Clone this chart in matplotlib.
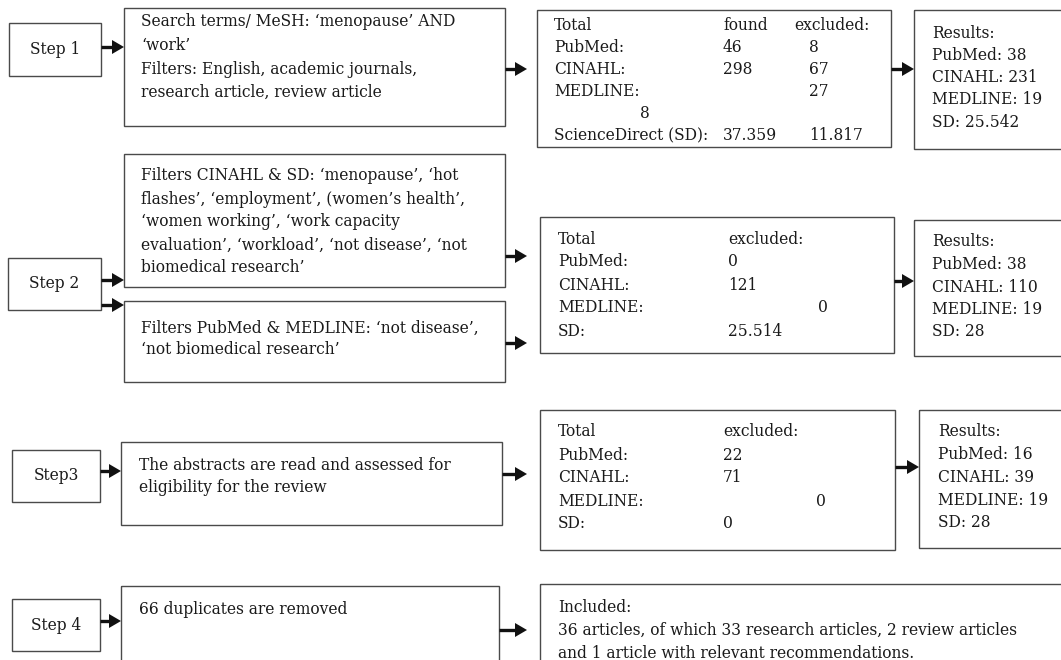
import matplotlib
matplotlib.use("Agg")
import matplotlib.pyplot as plt
from matplotlib.patches import Rectangle, Polygon

plt.rcParams['font.family'] = ['DejaVu Serif']

FS = 11.2
TXT = '#1a1a1a'
EDGE = '#4a4a4a'

# step labels
steps = ["Step 1", "Step 2", "Step3", "Step 4"]

# middle column texts
search_lines = ["Search terms/ MeSH: \u2018menopause\u2019 AND",
                "\u2018work\u2019",
                "Filters: English, academic journals,",
                "research article, review article"]
cinahl_lines = ["Filters CINAHL & SD: \u2018menopause\u2019, \u2018hot",
                "flashes\u2019, \u2018employment\u2019, (women\u2019s health\u2019,",
                "\u2018women working\u2019, \u2018work capacity",
                "evaluation\u2019, \u2018workload\u2019, \u2018not disease\u2019, \u2018not",
                "biomedical research\u2019"]
pubmed_lines = ["Filters PubMed & MEDLINE: \u2018not disease\u2019,",
                "\u2018not biomedical research\u2019"]
abstract_lines = ["The abstracts are read and assessed for",
                  "eligibility for the review"]
dup_lines = ["66 duplicates are removed"]

# counts tables
db_names = ["PubMed:", "CINAHL:", "MEDLINE:"]
found1 = ["46", "298", ""]
excl1 = ["8", "67", "27"]
sd_found1 = "37.359"
sd_excl1 = "11.817"
excl2 = ["0", "121", "0", "25.514"]
excl3 = ["22", "71", "0", "0"]

results1 = ["Results:", "PubMed: 38", "CINAHL: 231", "MEDLINE: 19", "SD: 25.542"]
results2 = ["Results:", "PubMed: 38", "CINAHL: 110", "MEDLINE: 19", "SD: 28"]
results3 = ["Results:", "PubMed: 16", "CINAHL: 39", "MEDLINE: 19", "SD: 28"]

included_lines = ["Included:",
                  "36 articles, of which 33 research articles, 2 review articles",
                  "and 1 article with relevant recommendations."]

fig = plt.figure(figsize=(10.61, 6.6), dpi=100)
ax = fig.add_axes([0, 0, 1, 1])
ax.set_xlim(0, 1061)
ax.set_ylim(660, 0)
ax.axis('off')


def box(x0, y0, x1, y1):
    ax.add_patch(Rectangle((x0, y0), x1 - x0, y1 - y0, fill=False,
                           edgecolor=EDGE, linewidth=1.0))


def lines(x, y0, texts, dy=23):
    for i, t in enumerate(texts):
        ax.text(x, y0 + i * dy, t, ha='left', va='center', fontsize=FS, color=TXT)


def arrow(x0, x1, y, hl=12, hw=7):
    ax.plot([x0, x1 - hl + 1], [y, y], color='#111111', lw=2.4, solid_capstyle='butt')
    ax.add_patch(Polygon([(x1 - hl, y - hw), (x1, y), (x1 - hl, y + hw)],
                         closed=True, facecolor='#111111', edgecolor='none'))


# step boxes
step_boxes = [(9, 23, 101, 76), (8, 258, 101, 310), (12, 450, 100, 502), (12, 599, 100, 651)]
for s, (x0, y0, x1, y1) in zip(steps, step_boxes):
    box(x0, y0, x1, y1)
    ax.text((x0 + x1) / 2, (y0 + y1) / 2, s, ha='center', va='center', fontsize=FS, color=TXT)

arrow(101, 124, 47)
arrow(101, 124, 280)
arrow(101, 124, 305)
arrow(100, 121, 471)
arrow(100, 121, 621)

# middle boxes
box(124, 8, 505, 126)
lines(141, 22, search_lines, dy=23.5)
box(124, 154, 505, 287)
lines(141, 176, cinahl_lines)
box(124, 301, 505, 382)
lines(141, 328, pubmed_lines, dy=22)
box(121, 442, 502, 525)
lines(139, 465, abstract_lines)
box(121, 586, 499, 720)
lines(139, 610, dup_lines)

arrow(505, 527, 69)
arrow(505, 527, 256)
arrow(505, 527, 343)
arrow(502, 527, 474)
arrow(499, 527, 630)

# total box 1
box(537, 10, 891, 147)
ys1 = [25, 47.5, 70, 92, 114, 136]
ax.text(554, ys1[0], "Total", va='center', fontsize=FS, color=TXT)
ax.text(723, ys1[0], "found", va='center', fontsize=FS, color=TXT)
ax.text(794, ys1[0], "excluded:", va='center', fontsize=FS, color=TXT)
for i, n in enumerate(db_names):
    ax.text(554, ys1[i + 1], n, va='center', fontsize=FS, color=TXT)
    ax.text(723, ys1[i + 1], found1[i], va='center', fontsize=FS, color=TXT)
    ax.text(809, ys1[i + 1], excl1[i], va='center', fontsize=FS, color=TXT)
ax.text(640, ys1[4], "8", va='center', fontsize=FS, color=TXT)
ax.text(554, ys1[5], "ScienceDirect (SD):", va='center', fontsize=FS, color=TXT)
ax.text(723, ys1[5], sd_found1, va='center', fontsize=FS, color=TXT)
ax.text(809, ys1[5], sd_excl1, va='center', fontsize=FS, color=TXT)

# total box 2 and 3
names = db_names + ["SD:"]
for (bx, by0, bx1, by1, ty, colx, excl, medx) in [
        (540, 217, 894, 353, 239, 728, excl2, 818),
        (540, 410, 895, 550, 432, 723, excl3, 816)]:
    box(bx, by0, bx1, by1)
    ax.text(558, ty, "Total", va='center', fontsize=FS, color=TXT)
    ax.text(colx, ty, "excluded:", va='center', fontsize=FS, color=TXT)
    for i, n in enumerate(names):
        y = ty + (i + 1) * 23
        ax.text(558, y, n, va='center', fontsize=FS, color=TXT)
        ax.text(medx if n == "MEDLINE:" else colx, y, excl[i], va='center',
                fontsize=FS, color=TXT)

arrow(891, 914, 69)
arrow(894, 914, 281)
arrow(895, 919, 467)

# results boxes
box(914, 10, 1100, 149)
lines(932, 33, results1, dy=22.3)
box(914, 220, 1100, 356)
lines(932, 242, results2, dy=22.5)
box(919, 410, 1100, 548)
lines(938, 432, results3, dy=22.7)

# included box
box(540, 584, 1100, 720)
lines(558, 607, included_lines)

fig.savefig("out.png", dpi=100)
